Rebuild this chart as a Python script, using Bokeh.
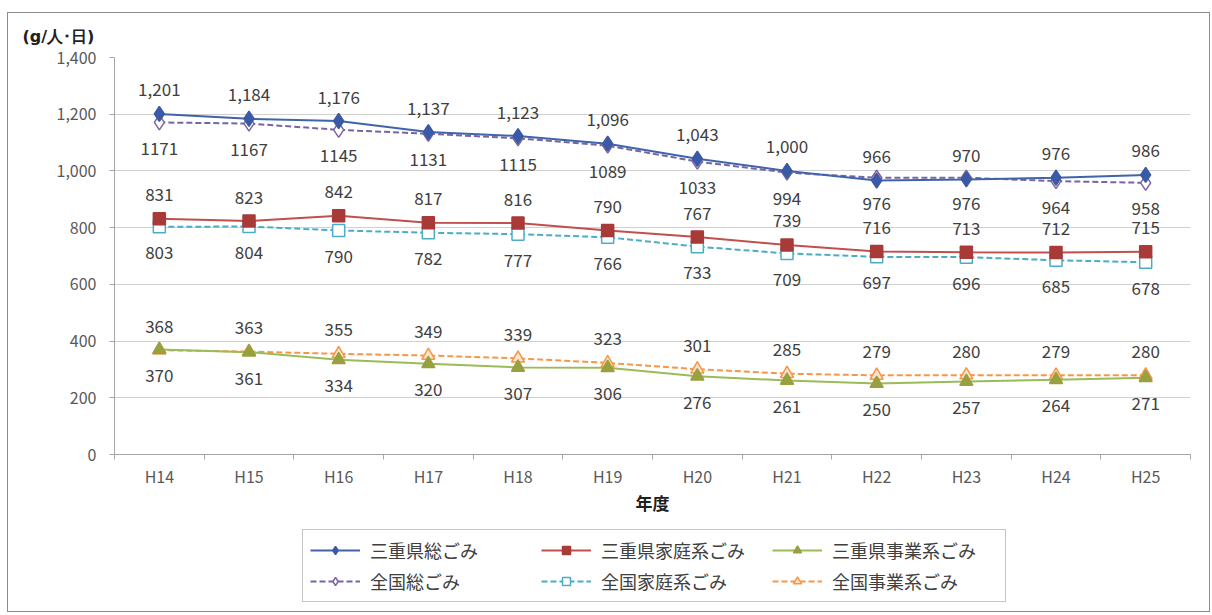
from bokeh.plotting import figure
from bokeh.layouts import column
from bokeh.models import (Range1d, FixedTicker, NumeralTickFormatter, Legend, LegendItem,
                          Title, ColumnDataSource)
from bokeh.core.properties import value
from bokeh.embed import file_html
from bokeh.resources import INLINE

# fiscal years (Heisei)
years = ["H14", "H15", "H16", "H17", "H18", "H19", "H20", "H21", "H22", "H23", "H24", "H25"]

# waste generated per person per day (g)
mie_total = [1201, 1184, 1176, 1137, 1123, 1096, 1043, 1000, 966, 970, 976, 986]
nat_total = [1171, 1167, 1145, 1131, 1115, 1089, 1033, 994, 976, 976, 964, 958]
mie_house = [831, 823, 842, 817, 816, 790, 767, 739, 716, 713, 712, 715]
nat_house = [803, 804, 790, 782, 777, 766, 733, 709, 697, 696, 685, 678]
mie_biz = [370, 361, 334, 320, 307, 306, 276, 261, 250, 257, 264, 271]
nat_biz = [368, 363, 355, 349, 339, 323, 301, 285, 279, 280, 279, 280]

y_ticks = [0, 200, 400, 600, 800, 1000, 1200, 1400]

FONT = "Noto Sans CJK JP"
TEXT = "#404040"

xs = list(range(1, len(years) + 1))

p = figure(width=1201, height=509, output_backend="svg", toolbar_location=None,
           x_range=Range1d(0.5, len(years) + 0.5), y_range=Range1d(0, 1400),
           min_border_left=106, min_border_right=19, min_border_top=42, min_border_bottom=68)
p.outline_line_color = None
p.background_fill_color = "white"
p.border_fill_color = "white"

# unit label, top left
p.title = Title(text="(g/人･日)", align="left", offset=-92, standoff=23,
                text_font="DejaVu Sans", text_font_size="16px", text_font_style="bold",
                text_color="#202020")

# x axis: labels at category centres, tick marks on the boundaries
p.xaxis.ticker = FixedTicker(ticks=xs, minor_ticks=[i + 0.5 for i in range(len(years) + 1)])
p.xaxis.major_label_overrides = {i: y for i, y in zip(xs, years)}
p.xaxis.major_tick_line_color = None
p.xaxis.minor_tick_line_color = "#A6A6A6"
p.xaxis.minor_tick_in = 0
p.xaxis.minor_tick_out = 5
p.xaxis.axis_line_color = "#A6A6A6"
p.xaxis.major_label_text_font = FONT
p.xaxis.major_label_text_font_size = "16px"
p.xaxis.major_label_text_color = "#595959"
p.xaxis.major_label_standoff = 3
p.xaxis.axis_label = "年度"
p.xaxis.axis_label_text_font = FONT
p.xaxis.axis_label_text_font_size = "17px"
p.xaxis.axis_label_text_font_style = "bold"
p.xaxis.axis_label_text_color = "#202020"
p.xaxis.axis_label_standoff = -1

# y axis
p.yaxis.ticker = FixedTicker(ticks=y_ticks)
p.yaxis.formatter = NumeralTickFormatter(format="0,0")
p.yaxis.minor_tick_line_color = None
p.yaxis.major_tick_line_color = "#A6A6A6"
p.yaxis.major_tick_in = 0
p.yaxis.major_tick_out = 5
p.yaxis.axis_line_color = "#A6A6A6"
p.yaxis.major_label_text_font = FONT
p.yaxis.major_label_text_font_size = "16px"
p.yaxis.major_label_text_color = "#595959"
p.yaxis.major_label_standoff = 13

p.xgrid.grid_line_color = None
p.ygrid.ticker = FixedTicker(ticks=y_ticks)
p.ygrid.grid_line_color = "#D0D0D0"
p.ygrid.grid_line_width = 1

# (values, legend name, line colour, marker, marker fill, marker outline, dashed, marker size)
series = {
    "nat_total": (nat_total, "全国総ごみ", "#7565A6", "diamond", "white", "#8064A2", True, 15),
    "nat_house": (nat_house, "全国家庭系ごみ", "#4BACC6", "square", "white", "#4BACC6", True, 12),
    "nat_biz": (nat_biz, "全国事業系ごみ", "#F79646", "triangle", "#FCE4CC", "#F79646", True, 13),
    "mie_total": (mie_total, "三重県総ごみ", "#4064AA", "diamond", "#3A5AA6", "#3A5AA6", False, 15),
    "mie_house": (mie_house, "三重県家庭系ごみ", "#C0504D", "square", "#A83A38", "#A83A38", False, 12),
    "mie_biz": (mie_biz, "三重県事業系ごみ", "#9BBB59", "triangle", "#98A040", "#98A040", False, 13),
}

for key, (vals, name, lc, mk, fc, mc, dashed, size) in series.items():
    src = ColumnDataSource(dict(x=xs, y=vals))
    p.line("x", "y", source=src, line_color=lc, line_width=2,
           line_dash="6 3" if dashed else "solid")
    p.scatter("x", "y", source=src, marker=mk, size=size, fill_color=fc,
              line_color=mc, line_width=1.5)

# value labels: above or below each point
def add_labels(vals, texts, offset):
    src = ColumnDataSource(dict(x=xs, y=vals, t=texts))
    p.text("x", "y", text="t", source=src, y_offset=offset, text_align="center",
           text_baseline="middle", text_font=value(FONT), text_font_size="17px",
           text_color=TEXT)

add_labels(mie_total, [f"{v:,}" for v in mie_total], -24)
add_labels(nat_total, [str(v) for v in nat_total], 26)
add_labels(mie_house, [str(v) for v in mie_house], -24)
add_labels(nat_house, [str(v) for v in nat_house], 26)
add_labels(nat_biz, [str(v) for v in nat_biz], -24)
add_labels(mie_biz, [str(v) for v in mie_biz], 26)

# legend strip under the chart, with sample glyphs kept outside its visible range
q = figure(width=1201, height=89, output_backend="svg", toolbar_location=None,
           x_range=Range1d(0, 1), y_range=Range1d(0, 1),
           min_border_left=0, min_border_right=0, min_border_top=0, min_border_bottom=0)
q.axis.visible = False
q.grid.visible = False
q.outline_line_color = None
q.background_fill_color = "white"
q.border_fill_color = "white"

items = {}
for key, (vals, name, lc, mk, fc, mc, dashed, size) in series.items():
    ln = q.line([-5, -4], [-5, -4], line_color=lc, line_width=2,
                line_dash="6 3" if dashed else "solid")
    sc = q.scatter([-5], [-5], marker=mk, size=size * 0.7, fill_color=fc,
                   line_color=mc, line_width=1.5)
    items[key] = LegendItem(label=name, renderers=[ln, sc])

order = ["mie_total", "mie_house", "mie_biz", "nat_total", "nat_house", "nat_biz"]
legend = Legend(items=[items[k] for k in order],
                orientation="horizontal", ncols=3,
                location=(188, 9),
                label_text_font=FONT, label_text_font_size="18px", label_text_color=TEXT,
                glyph_width=50, glyph_height=20, label_standoff=10, label_width=166,
                label_height=20, spacing=5, padding=7, margin=0,
                border_line_color="#8C8C8C", border_line_width=1,
                background_fill_color="white", background_fill_alpha=1)
q.add_layout(legend, "center")

layout = column(p, q, spacing=0, margin=(12, 0, 0, 7),
                styles={"border": "1px solid #8C8C8C"})

open("out.html", "w").write(file_html(layout, INLINE))
